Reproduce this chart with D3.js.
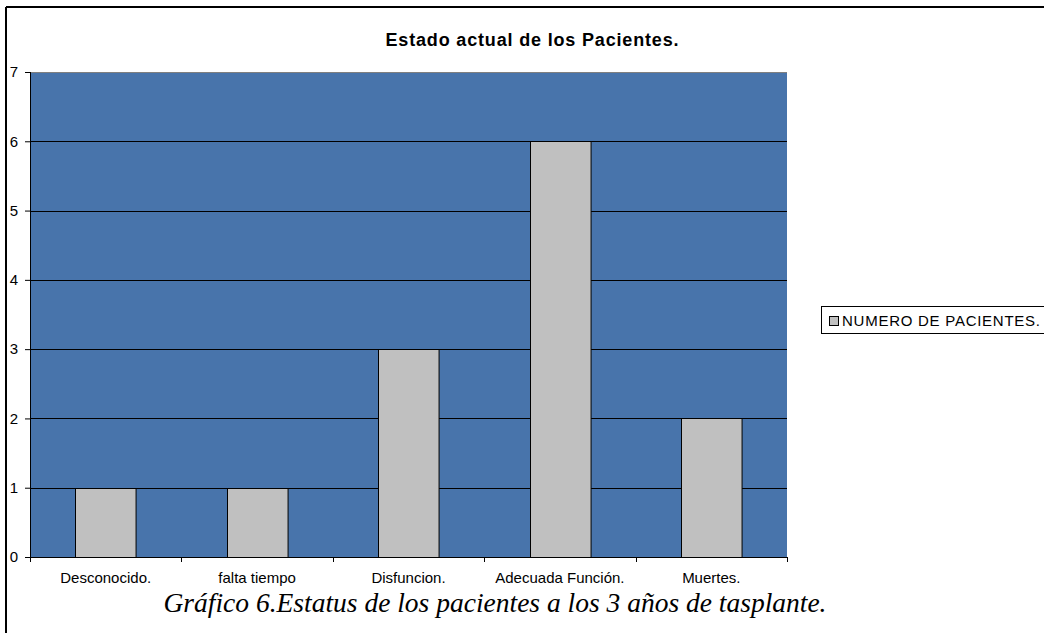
<!DOCTYPE html>
<html><head><meta charset="utf-8">
<script src="https://cdn.jsdelivr.net/npm/d3@7"></script>
<style>body{margin:0;background:#fff}svg{display:block}</style>
</head><body><svg id="c" width="1044" height="633"></svg>
<script>
const categories = ["Desconocido.", "falta tiempo", "Disfuncion.", "Adecuada Función.", "Muertes."];
const values = [1, 1, 3, 6, 2];
const yTicks = [0, 1, 2, 3, 4, 5, 6, 7];
const seriesName = "NUMERO DE PACIENTES.";
const title = "Estado actual de los Pacientes.";
const caption = "Gráfico 6.Estatus de los pacientes a los 3 años de tasplante.";

const SANS = "Arial, 'Liberation Sans', sans-serif";
const svg = d3.select("#c");
const L = 30, R = 787, T = 72, B = 557;
const x = d3.scaleBand().domain(categories).range([L, R]).paddingInner(0.6).paddingOuter(0.3);
const xb = d3.scaleBand().domain(categories).range([L, R]);
const y = d3.scaleLinear().domain([0, 7]).range([B, T]);

// outer frame
svg.append("line").attr("x1", 6).attr("x2", 1044).attr("y1", 7).attr("y2", 7).attr("stroke", "#000").attr("stroke-width", 2);
svg.append("line").attr("x1", 6).attr("x2", 6).attr("y1", 7).attr("y2", 633).attr("stroke", "#000").attr("stroke-width", 2);

// plot bg
svg.append("rect").attr("x", L).attr("y", T).attr("width", R - L).attr("height", B - T).attr("fill", "#4874AB");
svg.append("line").attr("x1", L).attr("x2", R).attr("y1", T + 0.5).attr("y2", T + 0.5).attr("stroke", "#808080");

// gridlines
svg.append("g").selectAll("line").data(yTicks.filter(d => d > 0 && d < 7)).join("line")
  .attr("x1", L).attr("x2", R).attr("y1", d => Math.round(y(d)) + 0.5).attr("y2", d => Math.round(y(d)) + 0.5)
  .attr("stroke", "#000").attr("stroke-width", 1);

// bars
svg.append("g").selectAll("rect").data(values).join("rect")
  .attr("x", (d, i) => Math.round(x(categories[i])) + 0.5)
  .attr("y", d => Math.round(y(d)) + 0.5)
  .attr("width", x.bandwidth())
  .attr("height", d => Math.round(y(0)) - Math.round(y(d)))
  .attr("fill", "#C0C0C0").attr("stroke", "#000").attr("stroke-width", 1);

// y axis
const ya = svg.append("g").attr("transform", `translate(${L},0)`)
  .call(d3.axisLeft(y).tickValues(yTicks).tickSize(5).tickPadding(5).tickFormat(d3.format("d")));
ya.select(".domain").attr("d", `M0.5,${T}V${B}`).attr("stroke", "#000");
ya.selectAll("text").attr("font-family", SANS).attr("font-size", 15).attr("fill", "#000").attr("x", -12);
ya.selectAll(".tick line").attr("stroke", "#000");

// x axis
const xa = svg.append("g").attr("transform", `translate(0,${B})`)
  .call(d3.axisBottom(xb).tickSize(0).tickPadding(0));
xa.select(".domain").attr("d", `M${L},0.5H${R}`).attr("stroke", "#000");
xa.selectAll("text").attr("font-family", SANS).attr("font-size", 15).attr("fill", "#000")
  .attr("dy", null).attr("y", 26);
xa.append("g").selectAll("line").data(d3.range(categories.length + 1)).join("line")
  .attr("x1", i => Math.round(L + i * xb.step()) + 0.5).attr("x2", i => Math.round(L + i * xb.step()) + 0.5)
  .attr("y1", 0).attr("y2", 5).attr("stroke", "#000");

// title
svg.append("text").attr("x", 532).attr("y", 46).attr("text-anchor", "middle")
  .attr("font-family", SANS).attr("font-weight", "bold").attr("font-size", 18)
  .attr("textLength", 293).attr("lengthAdjust", "spacing").text(title);

// legend
const lg = svg.append("g");
lg.append("rect").attr("x", 821.5).attr("y", 306.5).attr("width", 240).attr("height", 27).attr("fill", "#fff").attr("stroke", "#000");
lg.append("rect").attr("x", 829.5).attr("y", 316.5).attr("width", 9).attr("height", 9).attr("fill", "#C0C0C0").attr("stroke", "#000");
lg.append("text").attr("x", 842).attr("y", 326).attr("font-family", SANS).attr("font-size", 15)
  .attr("textLength", 198).attr("lengthAdjust", "spacing").text(seriesName);

// caption
svg.append("text").attr("x", 495).attr("y", 612).attr("text-anchor", "middle")
  .attr("font-family", "'Liberation Serif', 'Times New Roman', serif").attr("font-style", "italic").attr("font-size", 27.5).text(caption);
</script></body></html>
